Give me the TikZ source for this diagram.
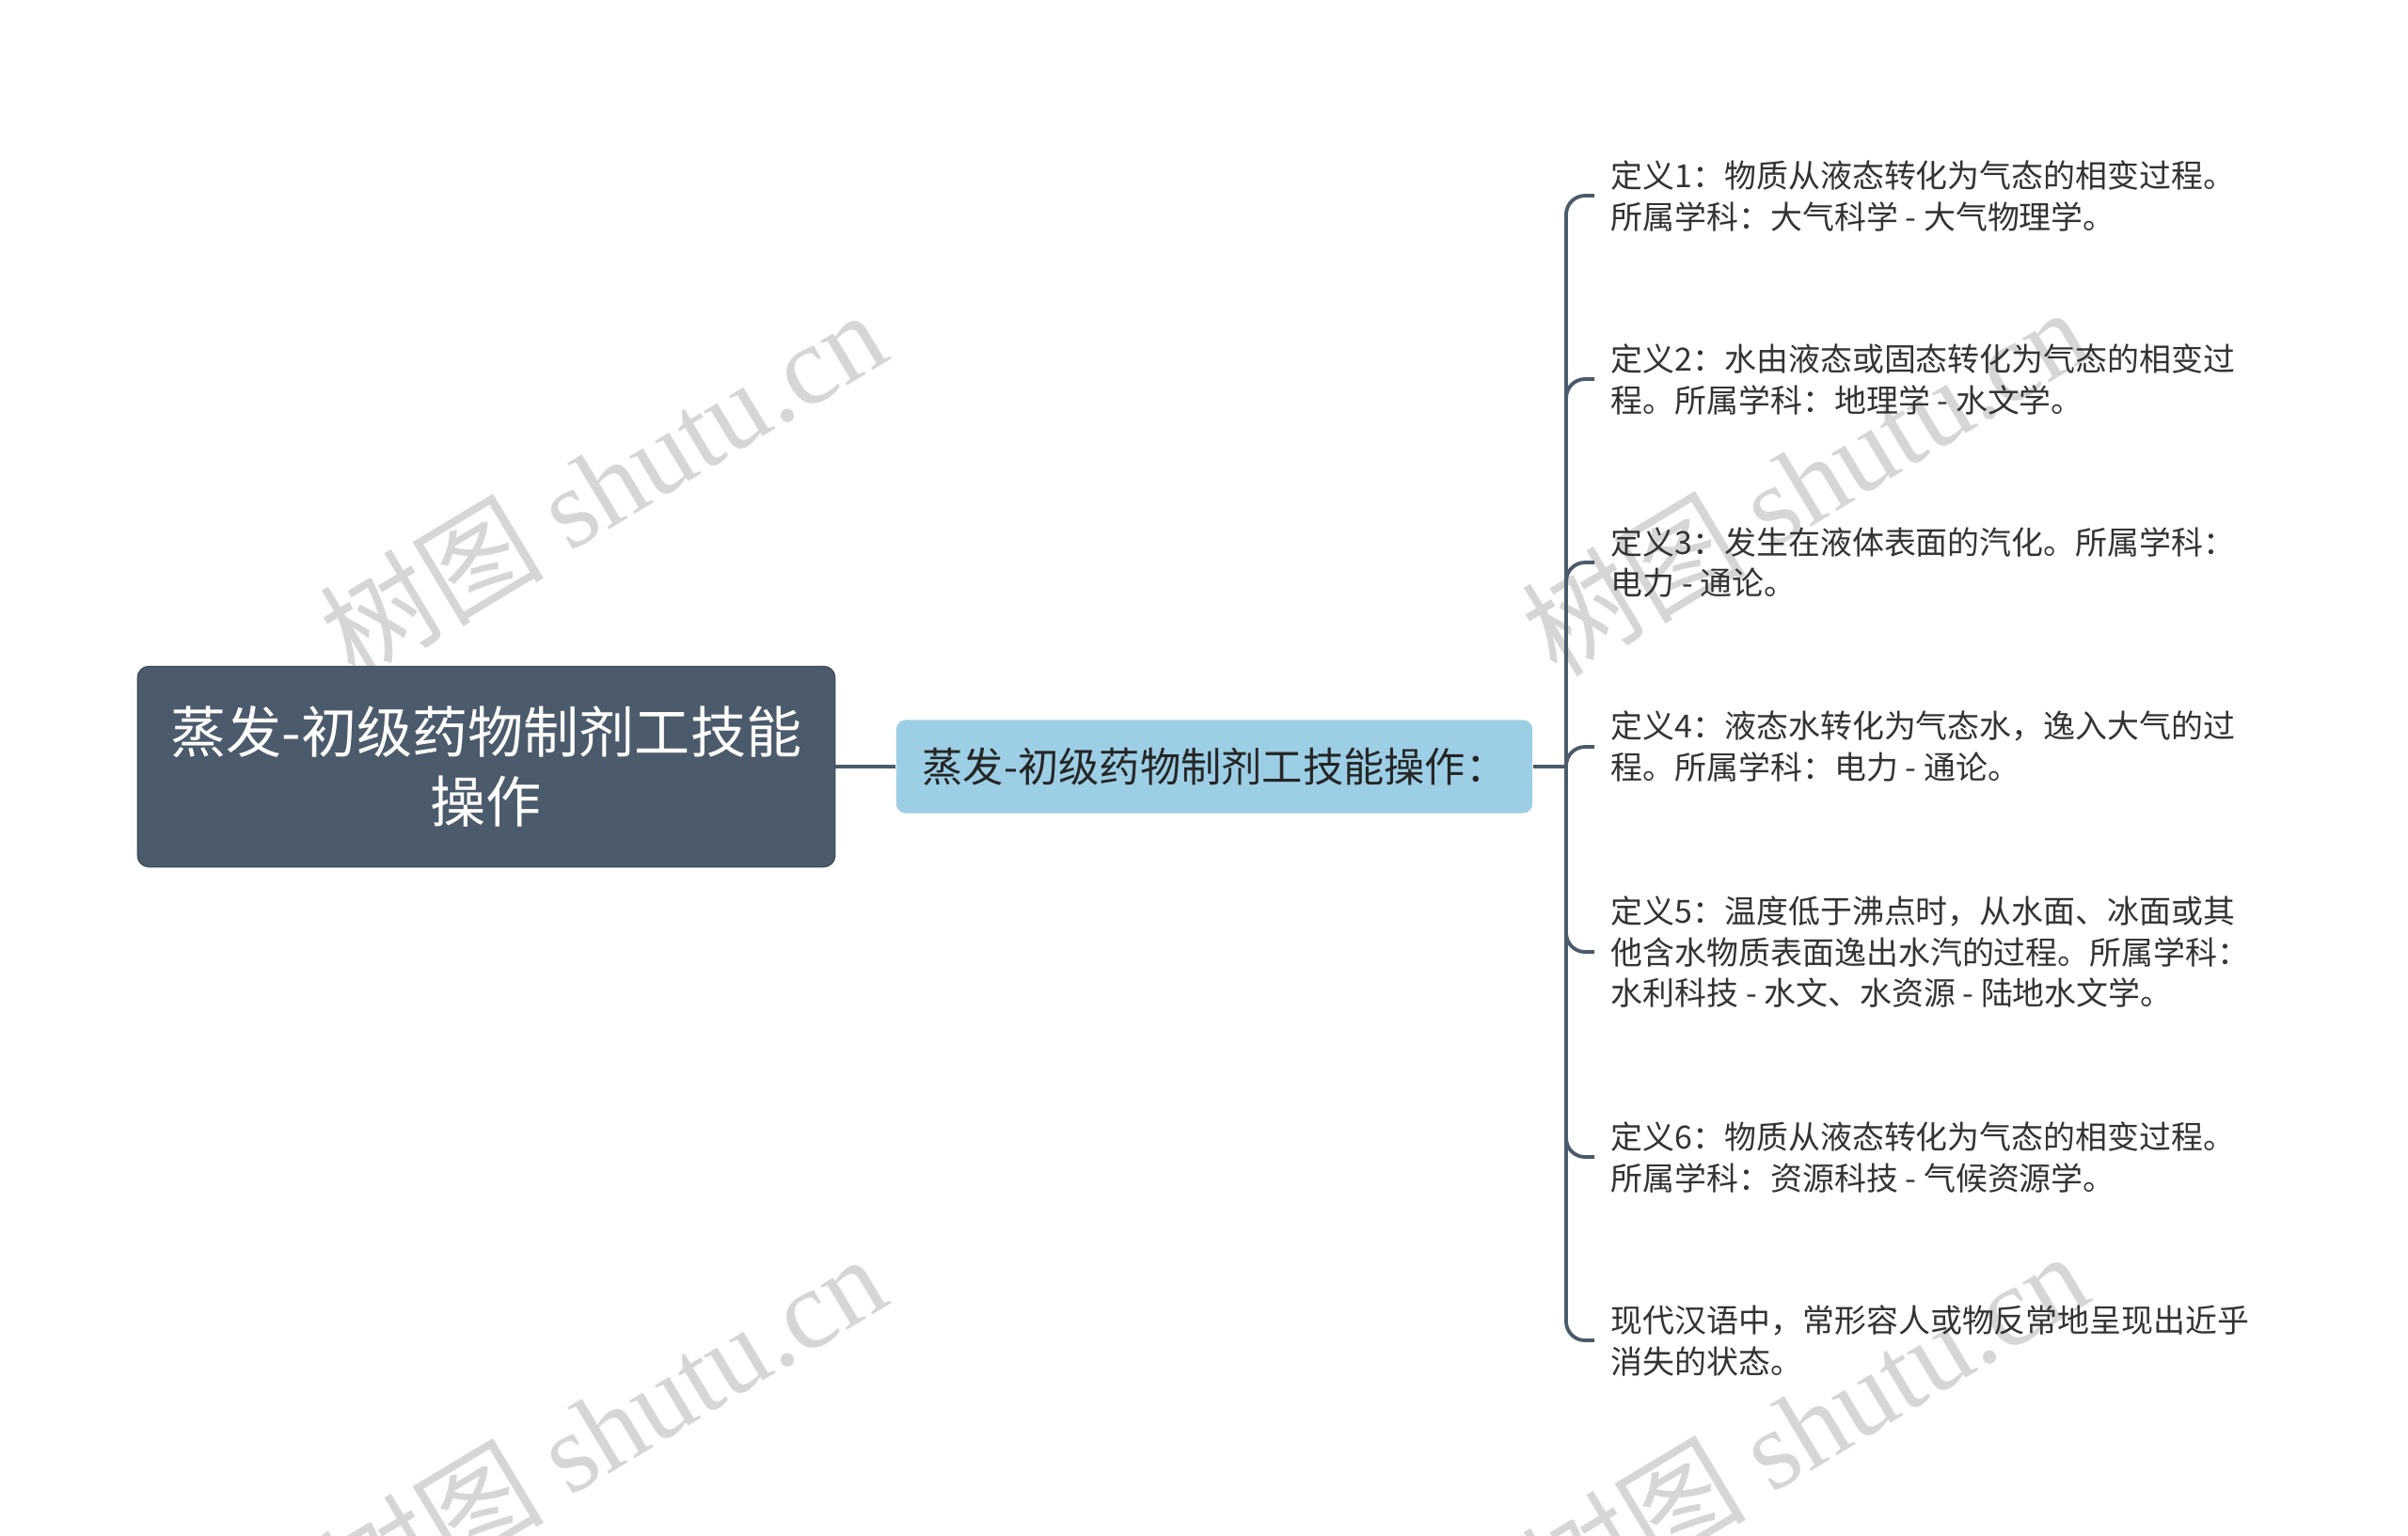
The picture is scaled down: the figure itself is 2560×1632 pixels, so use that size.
\documentclass[tikz,border=0pt]{standalone}
\usepackage{fontspec}
\setmainfont{Noto Sans CJK SC}
\newfontfamily\wmlatin{Liberation Serif}
\newfontfamily\wmcjk{Noto Sans CJK SC}
\definecolor{rootc}{HTML}{4B5B6B}
\definecolor{branchc}{HTML}{9CCFE5}
\definecolor{linec}{HTML}{4B5B6B}
\definecolor{leaftext}{HTML}{333333}
\definecolor{wmc}{HTML}{D6D6D6}
\begin{document}
\begin{tikzpicture}[x=0.01cm,y=-0.01cm,
  wmark/.style={text=wmc,inner sep=0,font=\fontsize{34pt}{40pt}\selectfont,rotate=31},
  rootbox/.style={fill=rootc,draw=rootc!85!black,line width=0.4pt,rounded corners=0.12cm,
    minimum width=7.41cm,minimum height=2.13cm,align=center,text=white,
    font=\fontsize{16.8pt}{21pt}\selectfont},
  branchbox/.style={fill=branchc,rounded corners=0.1cm,minimum width=6.76cm,minimum height=0.99cm,
    text=black!85,font=\fontsize{12.3pt}{14pt}\selectfont,inner sep=0},
  leaf/.style={anchor=west,align=left,inner xsep=0.17cm,inner ysep=0,text=leaftext,
    font=\fontsize{9.65pt}{12.5pt}\selectfont},
  conn/.style={draw=linec,line width=1.15pt},
  leafconn/.style={draw=linec,line width=1.1pt,rounded corners=0.2cm}]
\useasboundingbox (0,0) rectangle (2560,1632);
\fill[white] (0,0) rectangle (2560,1632);
% watermarks
\node[wmark] (wm1) at (640,514) {\wmcjk 树图\ \wmlatin shutu.cn};
\node[wmark] (wm2) at (1918,511) {\wmcjk 树图\ \wmlatin shutu.cn};
\node[wmark] (wm3) at (640,1518) {\wmcjk 树图\ \wmlatin shutu.cn};
\node[wmark] (wm4) at (1918,1515) {\wmcjk 树图\ \wmlatin shutu.cn};
% nodes
\node[rootbox] (root) at (517,815) {蒸发-初级药物制剂工技能\\操作};
\node[branchbox] (branch) at (1291,815) {蒸发-初级药物制剂工技能操作：};
\coordinate (jn) at (1665,815);
\node[leaf] (l1) at (1695,208) {定义1：物质从液态转化为气态的相变过程。\\所属学科：大气科学 - 大气物理学。};
\node[leaf] (l2) at (1695,403) {定义2：水由液态或固态转化为气态的相变过\\程。所属学科：地理学 - 水文学。};
\node[leaf] (l3) at (1695,598) {定义3：发生在液体表面的汽化。所属学科：\\电力 - 通论。};
\node[leaf] (l4) at (1695,794) {定义4：液态水转化为气态水，逸入大气的过\\程。所属学科：电力 - 通论。};
\node[leaf] (l5) at (1695,1012) {定义5：温度低于沸点时，从水面、冰面或其\\他含水物质表面逸出水汽的过程。所属学科：\\水利科技 - 水文、水资源 - 陆地水文学。};
\node[leaf] (l6) at (1695,1230) {定义6：物质从液态转化为气态的相变过程。\\所属学科：资源科技 - 气候资源学。};
\node[leaf] (l7) at (1695,1425) {现代汉语中，常形容人或物反常地呈现出近乎\\消失的状态。};
% connectors
\draw[conn] (root.east) -- (branch.west);
\draw[conn] (branch.east) -- (jn);
\foreach \n in {l1,l2,l3,l4,l5,l6,l7}{
  \draw[leafconn] (jn) |- (\n.west);
}
\end{tikzpicture}
\end{document}
